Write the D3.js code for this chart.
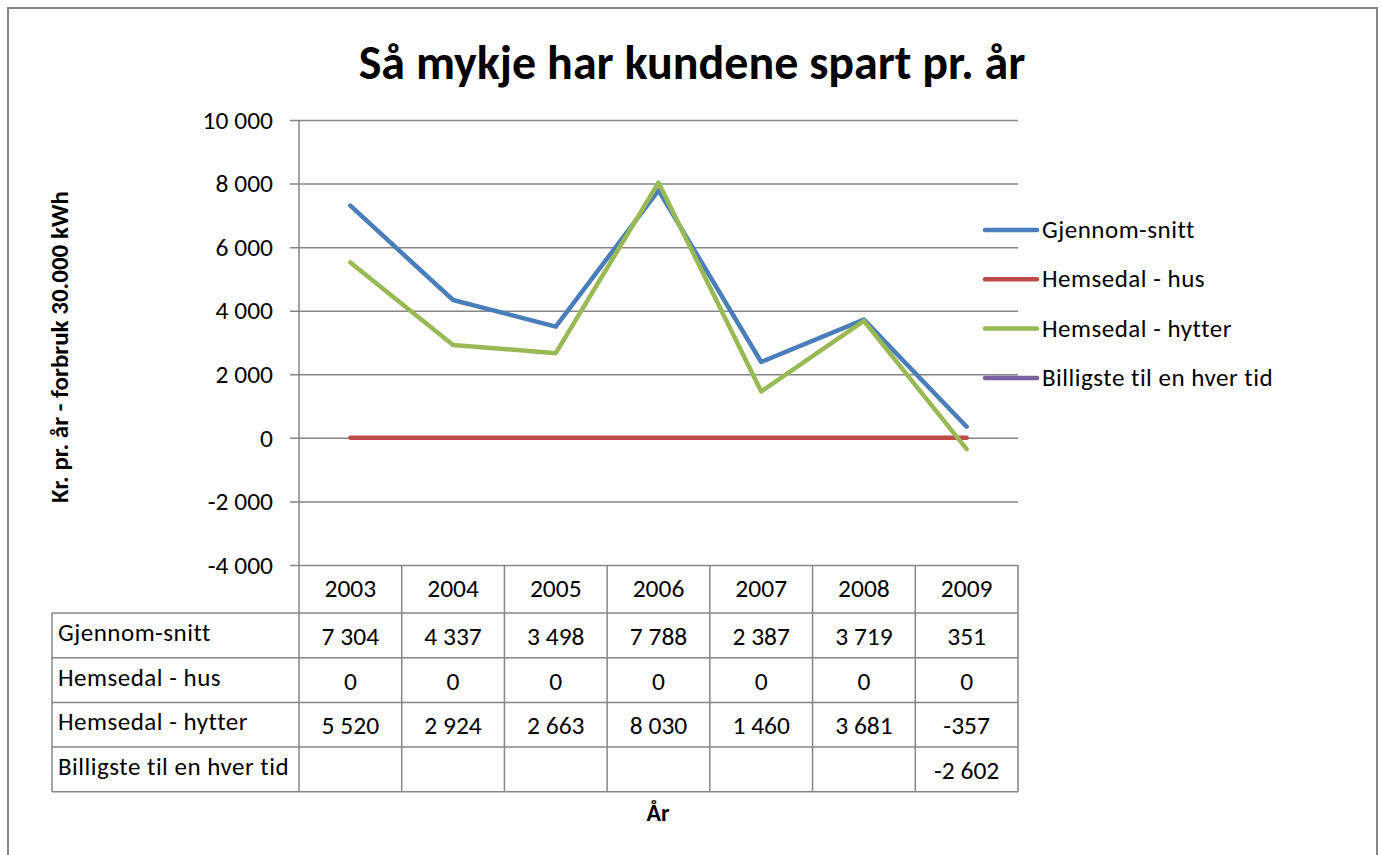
<!DOCTYPE html>
<html>
<head>
<meta charset="utf-8">
<script src="https://d3js.org/d3.v7.min.js"></script>
<style>
  body { margin: 0; background: #fff; }
  svg text { font-family: Carlito, Calibri, Lato, "Open Sans", sans-serif; fill: #000; }
  .lbl { letter-spacing: 0.5px; }
</style>
</head>
<body>
<svg id="chart" width="1382" height="855"></svg>
<script>
// data
var years = ["2003", "2004", "2005", "2006", "2007", "2008", "2009"];
var seriesNames = ["Gjennom-snitt", "Hemsedal - hus", "Hemsedal - hytter", "Billigste til en hver tid"];
var gjennomsnitt = [7304, 4337, 3498, 7788, 2387, 3719, 351];
var hus = [0, 0, 0, 0, 0, 0, 0];
var hytter = [5520, 2924, 2663, 8030, 1460, 3681, -357];
var billigste = [null, null, null, null, null, null, -2602];
var colors = ["#4a7ebb", "#be4b48", "#98b954", "#7d60a0"];
var yTicks = [-4000, -2000, 0, 2000, 4000, 6000, 8000, 10000];

var svg = d3.select("#chart"),
    plot = { left: 299, right: 1018, top: 120, bottom: 565 },
    gridColor = "#868686",
    numSize = 25.5;

var x = d3.scaleBand().domain(years).range([plot.left, plot.right]),
    y = d3.scaleLinear().domain([-4000, 10000]).range([plot.bottom, plot.top]);

var fmt = function (v) {
    if (v === null) return "";
    var s = d3.format(",")(v).replace(/,/g, "\u00a0");
    return s.replace("\u2212", "-");
};

// outer frame
svg.append("rect")
    .attr("x", 8).attr("y", 8)
    .attr("width", 1369).attr("height", 900)
    .attr("fill", "#fff")
    .attr("stroke", gridColor)
    .attr("stroke-width", 2);

// title
svg.append("text")
    .attr("x", 692).attr("y", 79)
    .attr("text-anchor", "middle")
    .attr("font-size", 48)
    .attr("font-weight", "bold")
    .text("Så mykje har kundene spart pr. år");

// y axis with gridlines
var yAxis = d3.axisLeft(y)
    .tickValues(yTicks)
    .tickSize(-(plot.right - plot.left))
    .tickPadding(26)
    .tickFormat(fmt);

var yg = svg.append("g")
    .attr("transform", "translate(" + plot.left + ",0)")
    .call(yAxis);
yg.select(".domain").remove();
yg.selectAll(".tick line")
    .attr("x1", -9)
    .attr("stroke", gridColor)
    .attr("stroke-width", 1.5);
yg.selectAll(".tick text")
    .attr("font-size", numSize)
    .attr("font-family", "Carlito, Calibri, Lato, 'Open Sans', sans-serif");

svg.append("line")
    .attr("x1", plot.left).attr("x2", plot.left)
    .attr("y1", plot.top).attr("y2", plot.bottom)
    .attr("stroke", gridColor).attr("stroke-width", 1.5);

// y label
svg.append("text")
    .attr("transform", "translate(68,347) rotate(-90)")
    .attr("text-anchor", "middle")
    .attr("font-size", 25)
    .attr("font-weight", "bold")
    .text("Kr. pr. år - forbruk 30.000 kWh");

// lines (a series with a single point draws nothing, as in the original)
var data_arr = [gjennomsnitt, hus, hytter, billigste];
var line = d3.line()
    .defined(function (d) { return d !== null; })
    .x(function (d, i) { return x(years[i]) + x.bandwidth() / 2; })
    .y(function (d) { return y(d); });

data_arr.forEach(function (vals, i) {
    if (vals.filter(function (v) { return v !== null; }).length < 2) return;
    svg.append("path")
        .datum(vals)
        .attr("fill", "none")
        .attr("stroke", colors[i])
        .attr("stroke-width", 4.5)
        .attr("stroke-linecap", "round")
        .attr("stroke-linejoin", "round")
        .attr("d", line);
});

// legend
var legend = svg.append("g");
seriesNames.forEach(function (name, i) {
    var ly = 230 + i * 49.3;
    legend.append("line")
        .attr("x1", 985).attr("x2", 1037)
        .attr("y1", ly).attr("y2", ly)
        .attr("stroke", colors[i])
        .attr("stroke-width", 4.5)
        .attr("stroke-linecap", "round");
    legend.append("text")
        .attr("class", "lbl")
        .attr("x", 1042).attr("y", ly + 8)
        .attr("font-size", 25)
        .text(name);
});

// data table
var rowH = 44.7,
    headTop = plot.bottom,
    headH = 48,
    tableLeft = 52,
    tableBottom = headTop + headH + rowH * seriesNames.length;
var table = svg.append("g");

// header row (years)
years.forEach(function (yr) {
    table.append("text")
        .attr("x", x(yr) + x.bandwidth() / 2)
        .attr("y", headTop + 32)
        .attr("text-anchor", "middle")
        .attr("font-size", numSize)
        .text(yr);
});

// vertical lines
years.concat(["end"]).forEach(function (yr, i) {
    var xp = i < years.length ? x(yr) : plot.right;
    table.append("line")
        .attr("x1", xp).attr("x2", xp)
        .attr("y1", headTop).attr("y2", tableBottom)
        .attr("stroke", gridColor).attr("stroke-width", 1.5);
});
table.append("line")
    .attr("x1", tableLeft).attr("x2", tableLeft)
    .attr("y1", headTop + headH).attr("y2", tableBottom)
    .attr("stroke", gridColor).attr("stroke-width", 1.5);

// horizontal lines
d3.range(seriesNames.length + 1).forEach(function (r) {
    var yp = headTop + headH + r * rowH;
    table.append("line")
        .attr("x1", tableLeft).attr("x2", plot.right)
        .attr("y1", yp).attr("y2", yp)
        .attr("stroke", gridColor).attr("stroke-width", 1.5);
});

// rows
data_arr.forEach(function (vals, r) {
    var rowTop = headTop + headH + r * rowH;
    table.append("text")
        .attr("class", "lbl")
        .attr("x", 58).attr("y", rowTop + 28)
        .attr("font-size", 25)
        .text(seriesNames[r]);
    vals.forEach(function (v, i) {
        table.append("text")
            .attr("x", x(years[i]) + x.bandwidth() / 2)
            .attr("y", rowTop + 32)
            .attr("text-anchor", "middle")
            .attr("font-size", numSize)
            .text(fmt(v));
    });
});

// x label
svg.append("text")
    .attr("x", 658).attr("y", 821)
    .attr("text-anchor", "middle")
    .attr("font-size", 24)
    .attr("font-weight", "bold")
    .text("År");
</script>
</body>
</html>
